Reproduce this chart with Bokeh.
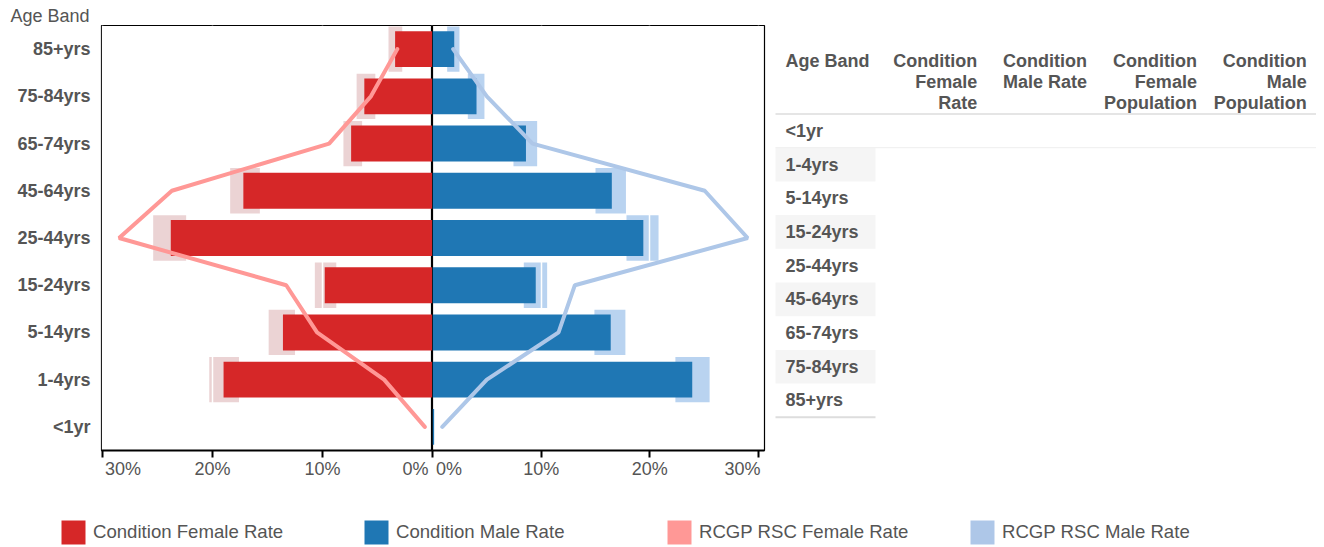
from bokeh.plotting import figure
from bokeh.models import (Range1d, FactorRange, FixedTicker, ColumnDataSource, Legend,
                          LegendItem, CustomJSTickFormatter)
from bokeh.layouts import row, column
from bokeh.core.properties import value
from bokeh.embed import file_html
from bokeh.resources import INLINE

# ---------------- data ----------------
age_bands = ["<1yr", "1-4yrs", "5-14yrs", "15-24yrs", "25-44yrs",
             "45-64yrs", "65-74yrs", "75-84yrs", "85+yrs"]

female_rate = [0.0, 19.0, 13.6, 9.8, 23.8, 17.2, 7.4, 6.2, 3.4]
female_ci_low = [0.0, 17.6, 12.5, 8.75, 22.4, 15.7, 6.4, 5.2, 2.75]
female_ci_high = [0.0, 20.3, 14.9, 10.7, 25.4, 18.4, 8.1, 6.9, 4.0]

male_rate = [0.15, 23.9, 16.4, 9.5, 19.4, 16.5, 8.6, 4.05, 2.0]
male_ci_low = [0.0, 22.35, 14.9, 8.4, 17.85, 15.0, 7.45, 3.25, 1.35]
male_ci_high = [0.0, 25.5, 17.75, 10.55, 20.8, 17.8, 9.63, 4.78, 2.48]

rcgp_female_rate = [0.7, 4.4, 10.5, 13.3, 28.5, 23.7, 9.4, 5.6, 3.2]
rcgp_male_rate = [0.9, 5.0, 11.6, 13.1, 29.0, 25.05, 9.2, 5.0, 1.9]

x_ticks = [0, 10, 20, 30]
x_tick_labels = ["0%", "10%", "20%", "30%"]

legend_labels = ["Condition Female Rate", "Condition Male Rate",
                 "RCGP RSC Female Rate", "RCGP RSC Male Rate"]
table_headers = ["Age Band", "Condition\nFemale\nRate", "Condition\nMale Rate",
                 "Condition\nFemale\nPopulation", "Condition\nMale\nPopulation"]
axis_title = "Age Band"

# ---------------- style ----------------
FONT = "Liberation Sans"
TXT = "#555555"
C_F, C_M = "#d62728", "#1f77b4"
C_RF, C_RM = "#ff9896", "#aec7e8"
C_CIF, C_CIM = "#ebd3d4", "#b9d3f0"

TOP, FRAME_H, BOTTOM = 25, 425, 8
MAIN_H = TOP + FRAME_H + BOTTOM
LEFT_BORDER = 101
FRAME_W_F, FRAME_W_M = 331, 332

yr = FactorRange(factors=age_bands, range_padding=0)
fx = Range1d(30.1, 0)      # female side, reversed
mx = Range1d(0, 30.55)     # male side


def style_main(p):
    p.outline_line_color = "black"
    p.outline_line_width = 1.2
    p.ygrid.grid_line_color = None
    p.xgrid.ticker = FixedTicker(ticks=x_ticks)
    p.xgrid.grid_line_color = "white"
    p.xgrid.grid_line_width = 1.5
    ax = p.xaxis[0]
    ax.ticker = FixedTicker(ticks=x_ticks)
    ax.formatter = CustomJSTickFormatter(code="return ''")
    ax.major_label_text_font_size = "1px"
    ax.major_label_standoff = 0
    ax.major_tick_out = 7
    ax.major_tick_in = 0
    ax.major_tick_line_width = 2
    ax.major_tick_line_color = "black"
    ax.minor_tick_line_color = None
    ax.axis_line_color = "black"
    ax.axis_line_width = 2


def draw_side(p, rate, lo, hi, ref, c_bar, c_ci, c_line):
    src = ColumnDataSource(dict(age=age_bands, rate=rate, lo=lo, hi=hi, ref=ref))
    ci = p.hbar(y="age", left="lo", right="hi", height=0.96, source=src,
                fill_color=c_ci, line_color=None)
    ci.level = "image"
    p.hbar(y="age", left=0, right="rate", height=0.76, source=src,
           fill_color=c_bar, line_color=None)
    p.line(x="ref", y="age", source=src, line_color=c_line, line_width=4,
           line_cap="round")


# female (left)
pf = figure(width=LEFT_BORDER + FRAME_W_F, height=MAIN_H, x_range=fx, y_range=yr,
            output_backend="svg", toolbar_location=None,
            min_border_left=LEFT_BORDER, min_border_right=0,
            min_border_top=TOP, min_border_bottom=BOTTOM)
style_main(pf)
pf.title.text = axis_title
pf.title.align = "left"
pf.title.offset = -91
pf.title.standoff = 0
pf.title.text_font = FONT
pf.title.text_font_size = "18px"
pf.title.text_font_style = "normal"
pf.title.text_color = TXT
ya = pf.yaxis[0]
ya.axis_line_color = None
ya.major_tick_line_color = None
ya.minor_tick_line_color = None
ya.major_tick_out = 0
ya.major_label_standoff = 11
ya.major_label_text_font = FONT
ya.major_label_text_font_size = "18px"
ya.major_label_text_font_style = "bold"
ya.major_label_text_color = TXT
draw_side(pf, female_rate, female_ci_low, female_ci_high, rcgp_female_rate, C_F, C_CIF, C_RF)

# male (right)
pm = figure(width=FRAME_W_M + 2, height=MAIN_H, x_range=mx, y_range=yr,
            output_backend="svg", toolbar_location=None, y_axis_location=None,
            min_border_left=0, min_border_right=2,
            min_border_top=TOP, min_border_bottom=BOTTOM)
style_main(pm)
draw_side(pm, male_rate, male_ci_low, male_ci_high, rcgp_male_rate, C_M, C_CIM, C_RM)


# tick label strips
def strip(rng, width, bl, br):
    s = figure(width=width, height=30, x_range=rng, y_range=Range1d(0, 1),
               output_backend="svg", toolbar_location=None,
               x_axis_location=None, y_axis_location=None,
               min_border_left=bl, min_border_right=br, min_border_top=0, min_border_bottom=0)
    s.outline_line_color = None
    s.grid.visible = False
    xs, aligns, offs = [], [], []
    for t in x_ticks:
        if abs(t - rng.start) < 1:
            xs.append(rng.start); aligns.append("left"); offs.append(3.5)
        elif abs(t - rng.end) < 1:
            xs.append(rng.end); aligns.append("right"); offs.append(-4)
        else:
            xs.append(t); aligns.append("center"); offs.append(0)
    src = ColumnDataSource(dict(x=xs, y=[1] * len(xs), text=x_tick_labels, align=aligns, off=offs))
    s.text(x="x", y="y", text="text", text_align="align", x_offset="off", y_offset=0,
           text_baseline="top", source=src, text_font=value(FONT),
           text_font_size="18px", text_color=TXT)
    return s


sf = strip(fx, LEFT_BORDER + FRAME_W_F, LEFT_BORDER, 0)
sm = strip(mx, FRAME_W_M + 2, 0, 2)

# table (page-pixel coordinates; frame aligned with the chart frames)
T_X0, T_X1 = LEFT_BORDER + FRAME_W_F + FRAME_W_M + 2, 1316
tb = figure(width=T_X1 - T_X0, height=MAIN_H, x_range=Range1d(T_X0, T_X1),
            y_range=Range1d(TOP + FRAME_H, TOP), output_backend="svg", toolbar_location=None,
            x_axis_location=None, y_axis_location=None,
            min_border_left=0, min_border_right=0,
            min_border_top=TOP, min_border_bottom=BOTTOM)
tb.outline_line_color = None
tb.grid.visible = False

col0 = 775
col_w = [100, 109.8, 109.8, 109.8, 109.8]
edges = [col0]
for w in col_w:
    edges.append(edges[-1] + w)
hx, ha = [], []
for i, h in enumerate(table_headers):
    if i == 0:
        hx.append(edges[0] + 10); ha.append("left")
    else:
        hx.append(edges[i + 1] - 8); ha.append("right")
tb.text(x=hx, y=[50.5] * len(hx), text=table_headers, text_align=ha, text_baseline="top",
        text_font=value(FONT), text_font_size="18px", text_font_style="bold",
        text_color=TXT, text_line_height=1.04)

head_bottom = 113.5
row_h = 33.7
row_y = [head_bottom + row_h * (i + 0.5) for i in range(len(age_bands))]
stripe_y = [y for i, y in enumerate(row_y) if i % 2 == 1]
tb.rect(x=[(edges[0] + edges[1]) / 2] * len(stripe_y), y=stripe_y, width=edges[1] - edges[0],
        height=row_h, fill_color="#f5f5f5", line_color=None)
tb.text(x=[edges[0] + 10] * len(age_bands), y=row_y, text=age_bands, text_align="left",
        text_baseline="middle", text_font=value(FONT), text_font_size="18px",
        text_font_style="bold", text_color=TXT)
tb.segment(x0=[edges[0]], y0=[head_bottom], x1=[T_X1], y1=[head_bottom],
           line_color="#dddddd", line_width=1.5)
tb.segment(x0=[edges[0]], y0=[head_bottom + row_h], x1=[T_X1], y1=[head_bottom + row_h],
           line_color="#eeeeee", line_width=1)
tb.segment(x0=[edges[0]], y0=[head_bottom + row_h * len(age_bands)], x1=[edges[1]],
           y1=[head_bottom + row_h * len(age_bands)], line_color="#dddddd", line_width=2)

# legend
LEG_H = 547 - MAIN_H - 30
lg = figure(width=1316, height=LEG_H, x_range=Range1d(0, 1), y_range=Range1d(0, 1),
            output_backend="svg", toolbar_location=None,
            x_axis_location=None, y_axis_location=None, min_border=0)
lg.outline_line_color = None
lg.grid.visible = False
items = []
for lab, c in zip(legend_labels, [C_F, C_M, C_RF, C_RM]):
    r = lg.vbar(x=[5], top=[1], width=0.5, fill_color=c, line_color=None)
    items.append(LegendItem(label=lab, renderers=[r]))
leg = Legend(items=items, orientation="horizontal", location=(58, 0),
             glyph_width=30, glyph_height=30, label_standoff=5, label_width=260,
             spacing=8, padding=0, margin=0, border_line_color=None,
             background_fill_alpha=0, label_text_font=FONT, label_text_font_size="18.6px",
             label_text_color=TXT)
lg.add_layout(leg, "center")

layout = column(row(pf, pm, tb), row(sf, sm), lg)
open("out.html", "w").write(file_html(layout, INLINE))
